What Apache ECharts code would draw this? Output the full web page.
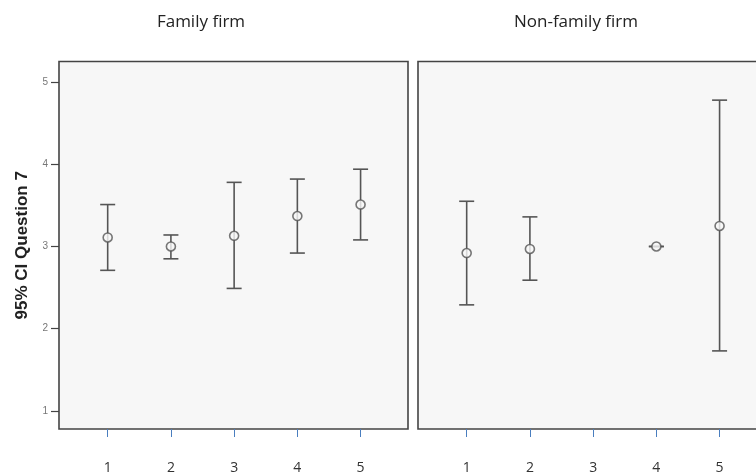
<!DOCTYPE html>
<html>
<head>
<meta charset="utf-8">
<script src="https://cdn.jsdelivr.net/npm/echarts@6/dist/echarts.min.js"></script>
<style>
html,body{margin:0;padding:0;background:#fff;}
#chart{width:756px;height:475px;}
</style>
</head>
<body>
<div id="chart"></div>
<script>
var categories = [1, 2, 3, 4, 5];
var yTicks = [1, 2, 3, 4, 5];
var panelTitles = ['Family firm', 'Non-family firm'];
var yAxisTitle = '95% CI Question 7';

var familyMean = [3.11, 3.00, 3.13, 3.37, 3.51];
var familyLow  = [2.71, 2.85, 2.49, 2.92, 3.08];
var familyHigh = [3.51, 3.14, 3.78, 3.82, 3.94];

var nonFamilyMean = [2.92, 2.97, null, 3.00, 3.25];
var nonFamilyLow  = [2.29, 2.59, null, 3.00, 1.73];
var nonFamilyHigh = [3.55, 3.36, null, 3.00, 4.78];

var lineColor = '#555555';

function meanData(means) {
  var out = [];
  categories.forEach(function (c, i) { if (means[i] != null) out.push([c, means[i]]); });
  return out;
}
function barData(low, high) {
  var out = [];
  categories.forEach(function (c, i) { if (low[i] != null) out.push([c, low[i], high[i]]); });
  return out;
}
function renderErrorBar(params, api) {
  var x = api.value(0);
  var lo = api.coord([x, api.value(1)]);
  var hi = api.coord([x, api.value(2)]);
  var hw = 7.5;
  var style = { stroke: lineColor, lineWidth: 1.6, fill: null };
  return {
    type: 'group',
    children: [
      { type: 'line', shape: { x1: lo[0], y1: lo[1], x2: hi[0], y2: hi[1] }, style: style },
      { type: 'line', shape: { x1: lo[0] - hw, y1: lo[1], x2: lo[0] + hw, y2: lo[1] }, style: style },
      { type: 'line', shape: { x1: hi[0] - hw, y1: hi[1], x2: hi[0] + hw, y2: hi[1] }, style: style }
    ]
  };
}

var gridBase = { top: 61.5, height: 367.5, width: 349, show: true, outerBoundsMode: 'none',
  containLabel: false,
  backgroundColor: '#f7f7f7', borderColor: '#444444', borderWidth: 1.6 };

function xAxisDef(idx) {
  return {
    type: 'value', gridIndex: idx, min: 0.23, max: 5.75,
    splitLine: { show: false },
    axisLine: { show: false },
    axisTick: { show: true, customValues: categories, length: 8, lineStyle: { color: '#4a7ebf', width: 1 } },
    axisLabel: { show: true, customValues: categories, margin: 32, fontSize: 14, color: '#333333', fontFamily: 'Open Sans' }
  };
}
function yAxisDef(idx, withLabels) {
  var ax = {
    type: 'value', gridIndex: idx, min: 0.78, max: 5.25,
    splitLine: { show: false },
    axisLine: { show: false },
    axisTick: { show: withLabels, customValues: yTicks, length: 8, lineStyle: { color: '#444444', width: 1.2 } },
    axisLabel: { show: withLabels, customValues: yTicks, margin: 11, fontSize: 10, color: '#777777', fontFamily: 'Liberation Sans' }
  };
  if (withLabels) {
    ax.name = yAxisTitle;
    ax.nameLocation = 'middle';
    ax.nameGap = 28;
    ax.nameRotate = 90;
    ax.nameTextStyle = { fontSize: 17, fontWeight: 'bold', color: '#222222', fontFamily: 'Liberation Sans' };
  }
  return ax;
}

function titleText(txt, cx) {
  return { type: 'text', x: cx, y: 22, silent: true,
    style: { text: txt, textAlign: 'center', textVerticalAlign: 'middle', fontSize: 17,
      fontFamily: 'Open Sans', fill: '#222222' } };
}

var chart = echarts.init(document.getElementById('chart'), null, { renderer: 'canvas' });
chart.setOption({
  animation: false,
  backgroundColor: '#ffffff',
  graphic: [titleText(panelTitles[0], 201), titleText(panelTitles[1], 576)],
  grid: [
    Object.assign({ left: 59 }, gridBase),
    Object.assign({ left: 418 }, gridBase)
  ],
  xAxis: [xAxisDef(0), xAxisDef(1)],
  yAxis: [yAxisDef(0, true), yAxisDef(1, false)],
  series: [
    { type: 'custom', xAxisIndex: 0, yAxisIndex: 0, renderItem: renderErrorBar,
      data: barData(familyLow, familyHigh), encode: { x: 0, y: [1, 2] }, z: 2 },
    { type: 'scatter', xAxisIndex: 0, yAxisIndex: 0, data: meanData(familyMean),
      symbol: 'circle', symbolSize: 9,
      itemStyle: { color: '#f7f7f7', borderColor: lineColor, borderWidth: 1.6 }, z: 3 },
    { type: 'custom', xAxisIndex: 1, yAxisIndex: 1, renderItem: renderErrorBar,
      data: barData(nonFamilyLow, nonFamilyHigh), encode: { x: 0, y: [1, 2] }, z: 2 },
    { type: 'scatter', xAxisIndex: 1, yAxisIndex: 1, data: meanData(nonFamilyMean),
      symbol: 'circle', symbolSize: 9,
      itemStyle: { color: '#f7f7f7', borderColor: lineColor, borderWidth: 1.6 }, z: 3 }
  ]
});
</script>
</body>
</html>
